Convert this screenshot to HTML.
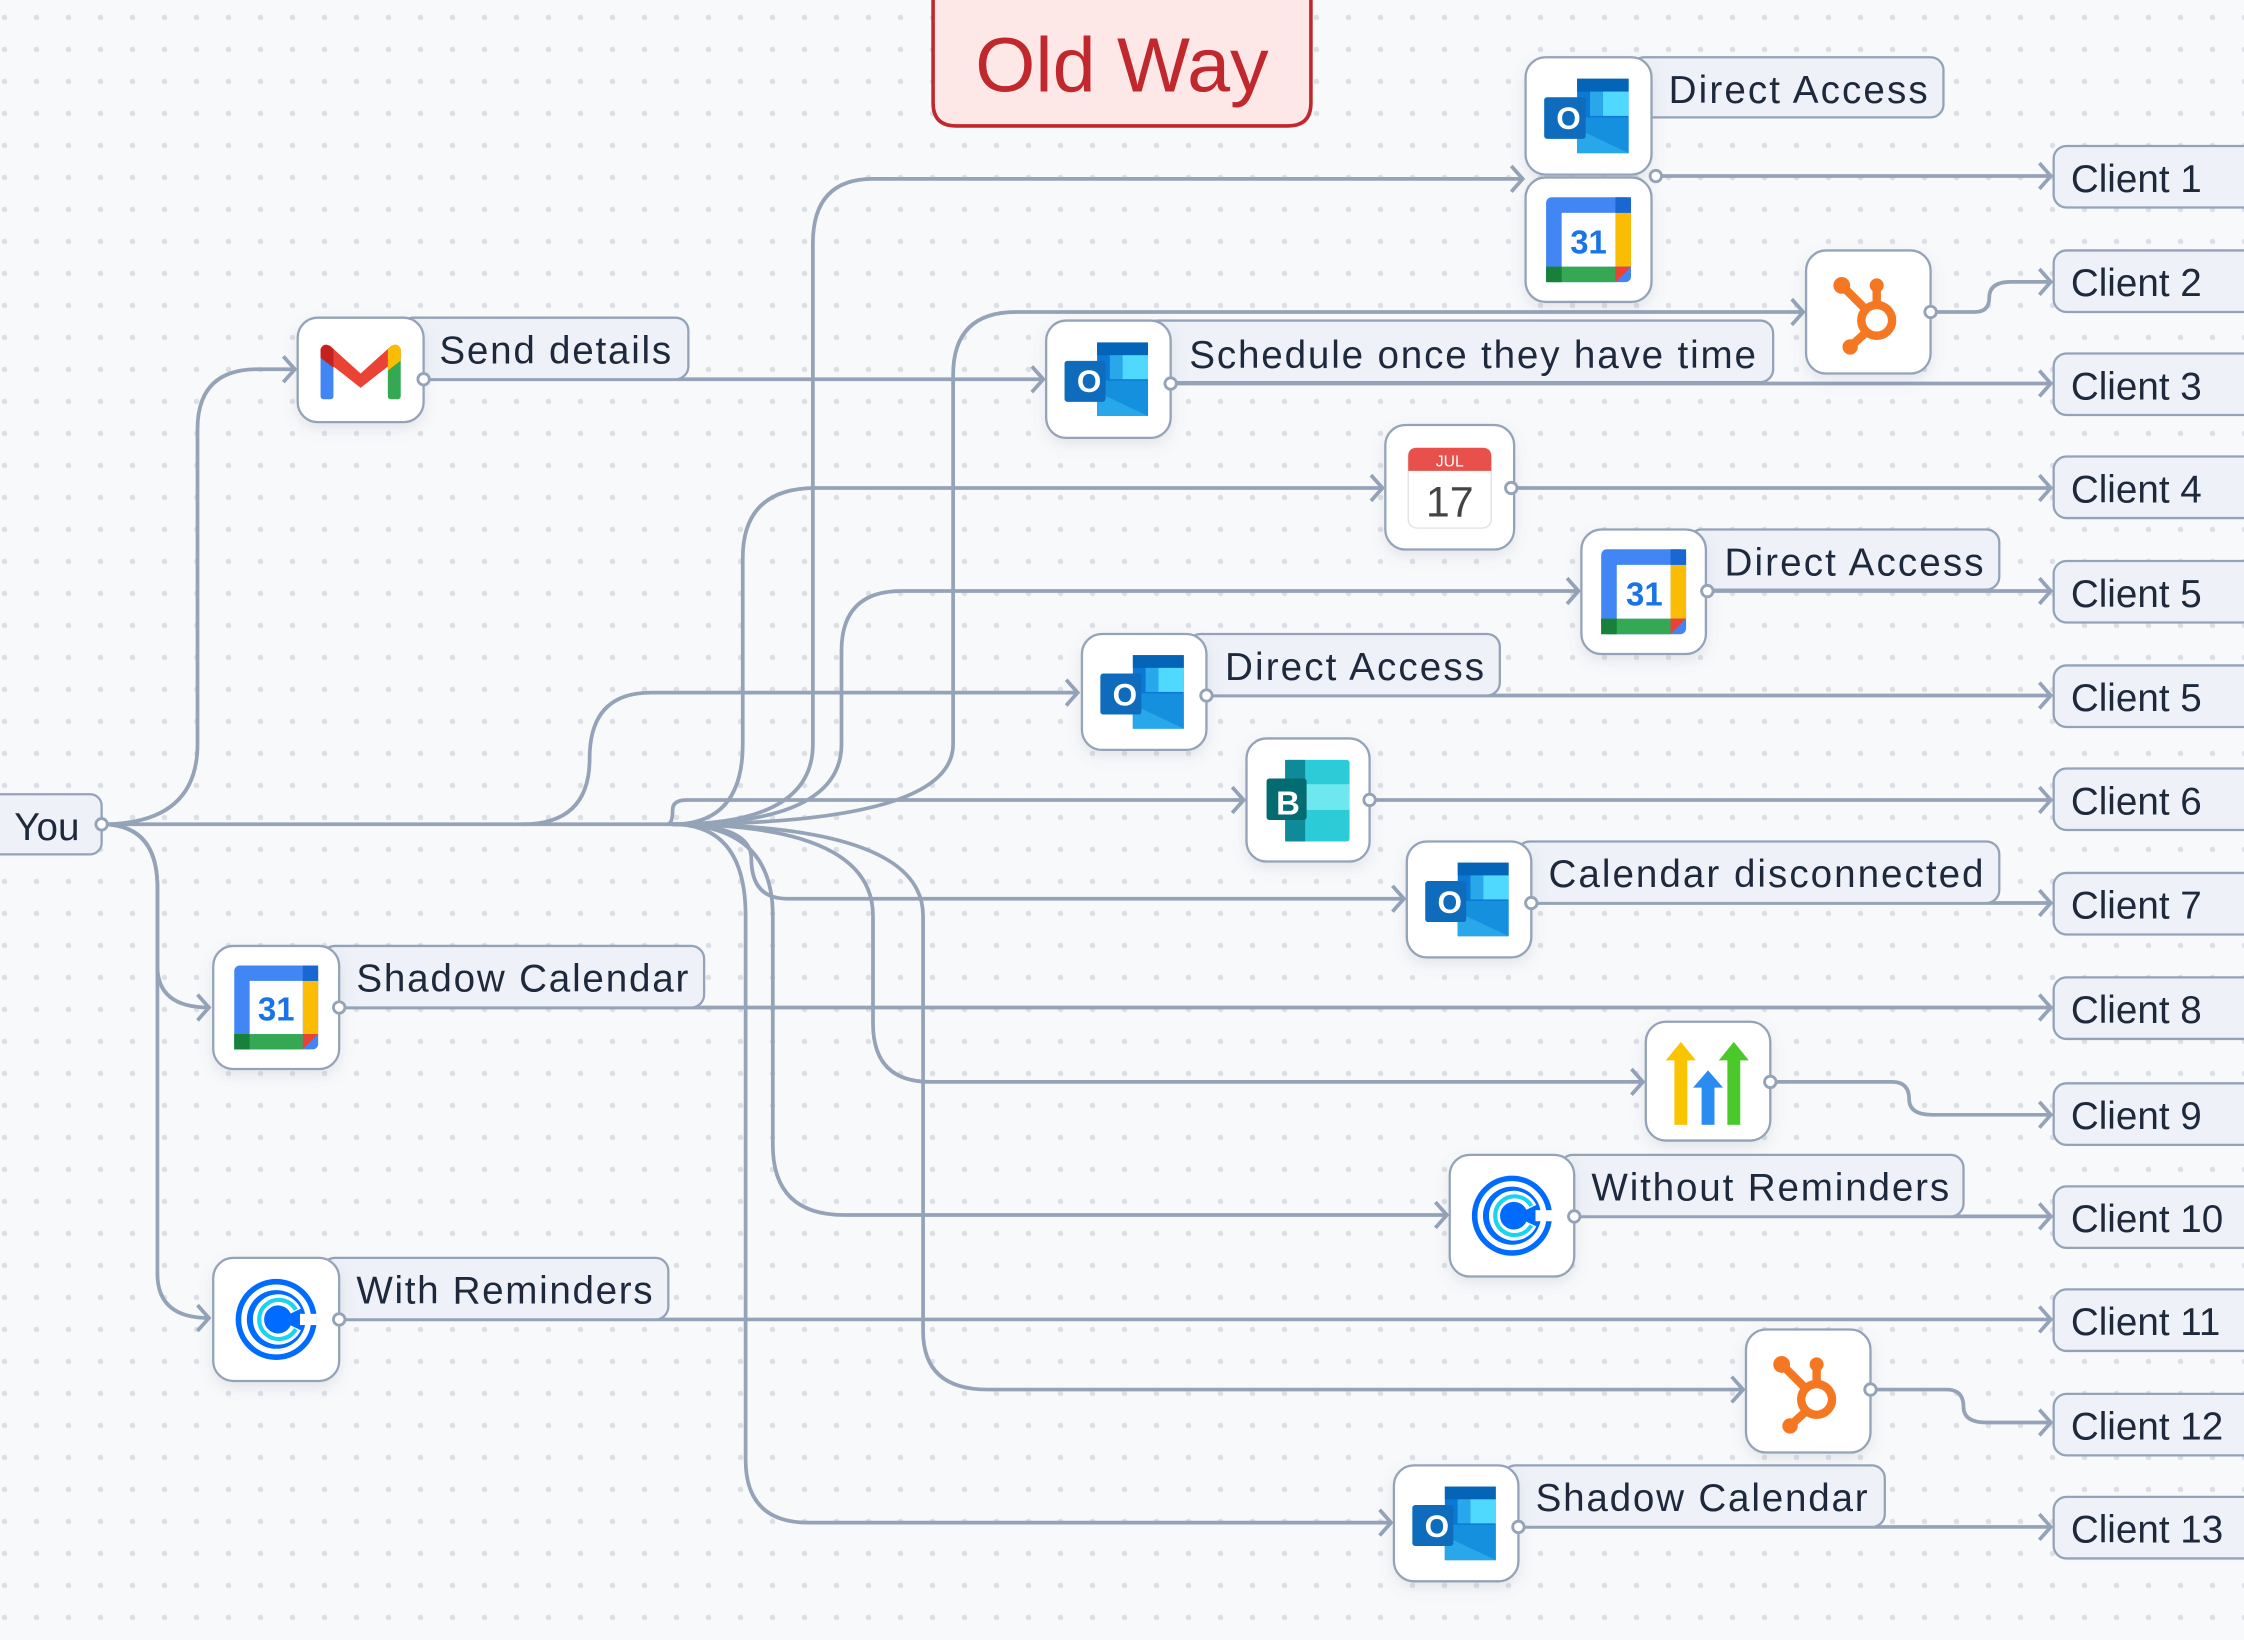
<!DOCTYPE html>
<html><head><meta charset="utf-8"><style>
html,body{margin:0;padding:0;}
body{width:2244px;height:1640px;overflow:hidden;background-color:#f8f9fb;background-image:radial-gradient(circle,#dcdfe5 2.4px,transparent 3px);background-size:32px 32px;background-position:-11.5px 1.5px;}
svg{position:absolute;left:0;top:0;}
text{font-family:"Liberation Sans",sans-serif;}
.lbl{font-size:27px;fill:#1e293b;}
.ln{fill:none;stroke:#94a3b8;stroke-width:2.6;}
.ib{fill:#fff;stroke:#94a3b8;stroke-width:1.6;filter:url(#sh);}
.lb{fill:#eef2f8;stroke:#94a3b8;stroke-width:1.6;}
.dot{fill:#fff;stroke:#94a3b8;stroke-width:2;}
</style></head><body>
<svg width="2244" height="1640" viewBox="0 0 1568 1146" preserveAspectRatio="none">
<defs>
<filter id="sh" x="-20%" y="-20%" width="140%" height="150%"><feDropShadow dx="0" dy="4" stdDeviation="5" flood-color="#64748b" flood-opacity="0.15"/></filter>
<marker id="ar" markerWidth="14" markerHeight="22" refX="11" refY="11" orient="auto" markerUnits="userSpaceOnUse"><path d="M3 2 L11 11 L3 20" fill="none" stroke="#94a3b8" stroke-width="2.6"/></marker>
<symbol id="outlook" viewBox="0 0 88 82"><rect x="36" y="15" width="36" height="52" fill="#0a78d4"/><rect x="36" y="15" width="36" height="9" fill="#0364b8"/><rect x="54" y="24" width="18" height="17" fill="#50d9ff"/><rect x="45" y="24" width="9" height="17" fill="#28a8ea"/><polygon points="36,42 72,42 72,67 36,67" fill="#1490df"/><polygon points="36,50 72,67 36,67" fill="#28a8ea"/><rect x="13" y="28" width="29" height="29" rx="2" fill="#0f6cbd"/></symbol>
<symbol id="gcal" viewBox="0 0 88 88"><rect x="14" y="14" width="60" height="60" rx="4" fill="#4285f4"/><rect x="63" y="25" width="11" height="38" fill="#fbbc04"/><rect x="14" y="63" width="49" height="11" fill="#34a853"/><rect x="14" y="63" width="11" height="11" fill="#188038"/><rect x="63" y="14" width="11" height="11" fill="#1967d2"/><polygon points="63,63 74,63 63,74" fill="#ea4335"/><rect x="25" y="25" width="38" height="38" fill="#fff"/></symbol>
<symbol id="hub" viewBox="0 0 88 88"><g stroke="#f57722" fill="none" stroke-width="6"><circle cx="50" cy="50" r="11"/><line x1="42" y1="42" x2="26" y2="26"/><line x1="50" y1="39" x2="50" y2="27"/><line x1="43" y1="58" x2="32" y2="68"/></g><g fill="#f57722"><circle cx="25" cy="25" r="6"/><circle cx="50" cy="25" r="5"/><circle cx="31" cy="69" r="5.5"/></g></symbol>
<symbol id="cal" viewBox="0 0 88 88"><circle cx="44" cy="44" r="27" fill="none" stroke="#006bff" stroke-width="4"/><circle cx="44" cy="44" r="21" fill="#006bff"/><path d="M58 38 A14 14 0 1 0 58 50" fill="none" stroke="#fff" stroke-width="8"/><path d="M58 37 A14 14 0 1 0 58 51" fill="none" stroke="#1ad3f0" stroke-width="3"/><rect x="61" y="40" width="12" height="8" fill="#fff"/></symbol>
</defs>

<g class="ln">
<path d="M71 576 Q138 576 138 520 L138 300 Q138 258 180 258 L206 258" marker-end="url(#ar)"/>
<path d="M71 576 Q110 576 110 620 L110 675 Q110 704 146 704" marker-end="url(#ar)"/>
<path d="M71 576 Q110 576 110 620 L110 890 Q110 921 146 921" marker-end="url(#ar)"/>
<path d="M71 576 L365 576 Q412 576 412 530 Q412 484 455 484 L753 484" marker-end="url(#ar)"/>
<path d="M365 576 L470 576 Q519 576 519 520 L519 390 Q519 341 570 341 L966 341" marker-end="url(#ar)"/>
<path d="M470 576 Q568 576 568 520 L568 170 Q568 125 610 125 L1064 125" marker-end="url(#ar)"/>
<path d="M470 576 Q588 576 588 520 L588 455 Q588 413 630 413 L1103 413" marker-end="url(#ar)"/>
<path d="M470 576 Q666 576 666 520 L666 262 Q666 218 710 218 L1260 218" marker-end="url(#ar)"/>
<path d="M466 576 Q470 576 470 566 Q470 559 480 559 L869 559" marker-end="url(#ar)"/>
<path d="M470 576 Q525 576 525 600 Q525 628 550 628 L981 628" marker-end="url(#ar)"/>
<path d="M470 576 Q540 576 540 640 L540 800 Q540 849 590 849 L1011 849" marker-end="url(#ar)"/>
<path d="M470 576 Q521 576 521 640 L521 1020 Q521 1064 565 1064 L972 1064" marker-end="url(#ar)"/>
<path d="M470 576 Q610 576 610 640 L610 715 Q610 756 650 756 L1148 756" marker-end="url(#ar)"/>
<path d="M470 576 Q645 576 645 640 L645 930 Q645 971 690 971 L1218 971" marker-end="url(#ar)"/>
<path d="M296 265 L729 265" marker-end="url(#ar)"/>
<path d="M1157 123 L1433 123" marker-end="url(#ar)"/>
<path d="M1349 218 L1380 218 Q1390 218 1390 208 Q1390 197 1405 197 L1433 197" marker-end="url(#ar)"/>
<path d="M818 268 L1433 268" marker-end="url(#ar)"/>
<path d="M1056 341 L1433 341" marker-end="url(#ar)"/>
<path d="M1193 413 L1433 413" marker-end="url(#ar)"/>
<path d="M843 486 L1433 486" marker-end="url(#ar)"/>
<path d="M957 559 L1433 559" marker-end="url(#ar)"/>
<path d="M1070 631 L1433 631" marker-end="url(#ar)"/>
<path d="M237 704 L1433 704" marker-end="url(#ar)"/>
<path d="M1237 756 L1322 756 Q1334 756 1334 768 Q1334 779 1350 779 L1433 779" marker-end="url(#ar)"/>
<path d="M1100 850 L1433 850" marker-end="url(#ar)"/>
<path d="M237 922 L1433 922" marker-end="url(#ar)"/>
<path d="M1307 971 L1360 971 Q1372 971 1372 983 Q1372 994 1388 994 L1433 994" marker-end="url(#ar)"/>
<path d="M1061 1067 L1433 1067" marker-end="url(#ar)"/>
</g>

<path d="M652 -5 L916 -5 L916 72 Q916 88 900 88 L668 88 Q652 88 652 72 Z" fill="#fde7e7" stroke="#c0282d" stroke-width="2.5"/>
<text x="784" y="64" text-anchor="middle" font-size="54" fill="#c0282d">Old Way</text>

<rect x="-10" y="555" width="81" height="42" rx="8" class="lb"/>
<text x="10" y="587" class="lbl">You</text>

<rect x="1140" y="40" width="218" height="42" rx="9" class="lb"/><text x="1166" y="72" class="lbl" textLength="181">Direct Access</text>
<rect x="280" y="222" width="201" height="43" rx="9" class="lb"/><text x="307" y="254" class="lbl" textLength="162">Send details</text>
<rect x="800" y="224" width="439" height="43" rx="9" class="lb"/><text x="831" y="257" class="lbl" textLength="396">Schedule once they have time</text>
<rect x="1180" y="370" width="217" height="42" rx="9" class="lb"/><text x="1205" y="402" class="lbl" textLength="181">Direct Access</text>
<rect x="830" y="443" width="218" height="43" rx="9" class="lb"/><text x="856" y="475" class="lbl" textLength="181">Direct Access</text>
<rect x="1060" y="588" width="337" height="43" rx="9" class="lb"/><text x="1082" y="620" class="lbl" textLength="304">Calendar disconnected</text>
<rect x="225" y="661" width="267" height="43" rx="9" class="lb"/><text x="249" y="693" class="lbl" textLength="232">Shadow Calendar</text>
<rect x="1090" y="807" width="282" height="43" rx="9" class="lb"/><text x="1112" y="839" class="lbl" textLength="250">Without Reminders</text>
<rect x="225" y="879" width="242" height="43" rx="9" class="lb"/><text x="249" y="911" class="lbl" textLength="207">With Reminders</text>
<rect x="1050" y="1024" width="267" height="43" rx="9" class="lb"/><text x="1073" y="1056" class="lbl" textLength="232">Shadow Calendar</text>

<g>
<rect x="1435" y="102" width="150" height="43" rx="9" class="lb"/><text x="1447" y="134" class="lbl">Client 1</text>
<rect x="1435" y="175" width="150" height="43" rx="9" class="lb"/><text x="1447" y="207" class="lbl">Client 2</text>
<rect x="1435" y="247" width="150" height="43" rx="9" class="lb"/><text x="1447" y="279" class="lbl">Client 3</text>
<rect x="1435" y="319" width="150" height="43" rx="9" class="lb"/><text x="1447" y="351" class="lbl">Client 4</text>
<rect x="1435" y="392" width="150" height="43" rx="9" class="lb"/><text x="1447" y="424" class="lbl">Client 5</text>
<rect x="1435" y="465" width="150" height="43" rx="9" class="lb"/><text x="1447" y="497" class="lbl">Client 5</text>
<rect x="1435" y="537" width="150" height="43" rx="9" class="lb"/><text x="1447" y="569" class="lbl">Client 6</text>
<rect x="1435" y="610" width="150" height="43" rx="9" class="lb"/><text x="1447" y="642" class="lbl">Client 7</text>
<rect x="1435" y="683" width="150" height="43" rx="9" class="lb"/><text x="1447" y="715" class="lbl">Client 8</text>
<rect x="1435" y="757" width="150" height="43" rx="9" class="lb"/><text x="1447" y="789" class="lbl">Client 9</text>
<rect x="1435" y="829" width="150" height="43" rx="9" class="lb"/><text x="1447" y="861" class="lbl">Client 10</text>
<rect x="1435" y="901" width="150" height="43" rx="9" class="lb"/><text x="1447" y="933" class="lbl">Client 11</text>
<rect x="1435" y="974" width="150" height="43" rx="9" class="lb"/><text x="1447" y="1006" class="lbl">Client 12</text>
<rect x="1435" y="1046" width="150" height="43" rx="9" class="lb"/><text x="1447" y="1078" class="lbl">Client 13</text>
</g>

<rect x="1066" y="40" width="88" height="82" rx="14" class="ib"/>
<use href="#outlook" x="1066" y="40" width="88" height="82"/><text x="1096" y="90" font-size="22" font-weight="bold" fill="#fff" text-anchor="middle">O</text>
<rect x="1066" y="124" width="88" height="87" rx="14" class="ib"/>
<use href="#gcal" x="1066" y="124" width="88" height="87"/><text x="1110" y="177" font-size="23" font-weight="bold" fill="#1a73e8" text-anchor="middle">31</text>
<rect x="208" y="222" width="88" height="73" rx="14" class="ib"/>
<g transform="translate(208,222)"><rect x="16" y="24" width="9" height="33" rx="2" fill="#4285f4"/><rect x="63" y="24" width="9" height="33" rx="2" fill="#34a853"/><path d="M16 27 L16 22 Q18 17 23 20 L44 39 L65 20 Q70 17 72 22 L72 27 L44 49 Z" fill="#ea4335"/><path d="M16 22 Q18 17 23 20 L25 22 L25 35 L16 28Z" fill="#c5221f"/><path d="M63 22 L65 20 Q70 17 72 22 L72 30 L63 37Z" fill="#fbbc04"/></g>
<rect x="731" y="224" width="87" height="82" rx="14" class="ib"/>
<use href="#outlook" x="731" y="224" width="87" height="82"/><text x="761" y="274" font-size="22" font-weight="bold" fill="#fff" text-anchor="middle">O</text>
<rect x="1262" y="175" width="87" height="86" rx="14" class="ib"/>
<use href="#hub" x="1262" y="175" width="87" height="86"/>
<rect x="968" y="297" width="90" height="87" rx="14" class="ib"/>
<rect x="984" y="313" width="58" height="56" rx="6" fill="#fff" stroke="#e3e3e3"/><path d="M984 319 Q984 313 990 313 L1036 313 Q1042 313 1042 319 L1042 329 L984 329Z" fill="#e8504c"/>
<text x="1013" y="326" font-size="11" fill="#fff" text-anchor="middle">JUL</text><text x="1013" y="361" font-size="30" fill="#444" text-anchor="middle">17</text>
<rect x="1105" y="370" width="87" height="87" rx="14" class="ib"/>
<use href="#gcal" x="1105" y="370" width="87" height="87"/><text x="1149" y="423" font-size="23" font-weight="bold" fill="#1a73e8" text-anchor="middle">31</text>
<rect x="756" y="443" width="87" height="81" rx="14" class="ib"/>
<use href="#outlook" x="756" y="443" width="87" height="81"/><text x="786" y="493" font-size="22" font-weight="bold" fill="#fff" text-anchor="middle">O</text>
<rect x="871" y="516" width="86" height="86" rx="14" class="ib"/>
<g transform="translate(871,516)"><rect x="27" y="15" width="45" height="57" rx="2" fill="#2ccbd8"/><rect x="40" y="32" width="32" height="18" fill="#6ee8ee"/><rect x="27" y="15" width="14" height="57" fill="#0f8a9a"/><rect x="14" y="28" width="28" height="29" rx="2" fill="#036c70"/></g>
<text x="900" y="569" font-size="23" font-weight="bold" fill="#fff" text-anchor="middle">B</text>
<rect x="983" y="588" width="87" height="81" rx="14" class="ib"/>
<use href="#outlook" x="983" y="588" width="87" height="81"/><text x="1013" y="638" font-size="22" font-weight="bold" fill="#fff" text-anchor="middle">O</text>
<rect x="149" y="661" width="88" height="86" rx="14" class="ib"/>
<use href="#gcal" x="149" y="661" width="88" height="86"/><text x="193" y="713" font-size="23" font-weight="bold" fill="#1a73e8" text-anchor="middle">31</text>
<rect x="1150" y="714" width="87" height="83" rx="14" class="ib"/>
<g transform="translate(1150,714)"><rect x="20" y="25" width="9" height="47" fill="#fbc400"/><polygon points="14,27 24.5,14 35,27" fill="#fbc400"/><rect x="39" y="45" width="9" height="27" fill="#2a8cf0"/><polygon points="33,46 43.5,34 54,46" fill="#2a8cf0"/><rect x="57" y="25" width="9" height="47" fill="#4cc92a"/><polygon points="51,27 61.5,14 72,27" fill="#4cc92a"/></g>
<rect x="1013" y="807" width="87" height="85" rx="14" class="ib"/>
<use href="#cal" x="1013" y="807" width="87" height="85"/>
<rect x="149" y="879" width="88" height="86" rx="14" class="ib"/>
<use href="#cal" x="149" y="879" width="88" height="86"/>
<rect x="1220" y="929" width="87" height="86" rx="14" class="ib"/>
<use href="#hub" x="1220" y="929" width="87" height="86"/>
<rect x="974" y="1024" width="87" height="81" rx="14" class="ib"/>
<use href="#outlook" x="974" y="1024" width="87" height="81"/><text x="1004" y="1074" font-size="22" font-weight="bold" fill="#fff" text-anchor="middle">O</text>

<g class="dot">
<circle cx="71" cy="576" r="4"/><circle cx="296" cy="265" r="4"/><circle cx="1157" cy="123" r="4"/><circle cx="818" cy="268" r="4"/><circle cx="1349" cy="218" r="4"/><circle cx="1056" cy="341" r="4"/><circle cx="1193" cy="413" r="4"/><circle cx="843" cy="486" r="4"/><circle cx="957" cy="559" r="4"/><circle cx="1070" cy="631" r="4"/><circle cx="237" cy="704" r="4"/><circle cx="1237" cy="756" r="4"/><circle cx="1100" cy="850" r="4"/><circle cx="237" cy="922" r="4"/><circle cx="1307" cy="971" r="4"/><circle cx="1061" cy="1067" r="4"/>
</g>
</svg>
</body></html>
